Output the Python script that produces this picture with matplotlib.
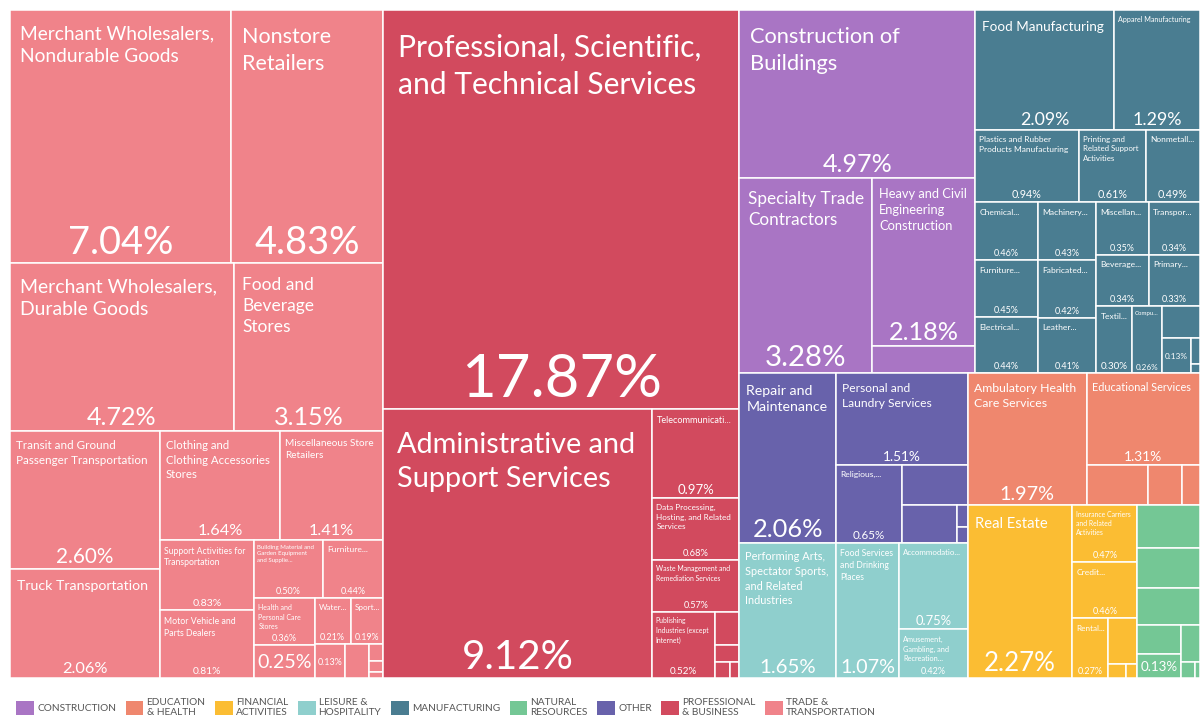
import numpy as np
import matplotlib
matplotlib.use("Agg")
import matplotlib.pyplot as plt
from matplotlib.patches import Rectangle, Patch

plt.rcParams['font.family'] = ['Lato', 'DejaVu Sans']

# ---- data (share of employment, %) ----
# None = no label, "" = percentage only
trade_names = ["Merchant Wholesalers,\nNondurable Goods", "Nonstore\nRetailers",
               "Merchant Wholesalers,\nDurable Goods", "Food and\nBeverage\nStores",
               "Transit and Ground\nPassenger Transportation", "Truck Transportation",
               "Clothing and\nClothing Accessories\nStores", "Miscellaneous Store\nRetailers",
               "Support Activities for\nTransportation", "Motor Vehicle and\nParts Dealers",
               "Building Material and\nGarden Equipment\nand Supplie...", "Furniture...",
               "Health and\nPersonal Care\nStores", "", "Water...", "Sport...", "",
               None, None, None, None]
trade_values = [7.04, 4.83, 4.72, 3.15, 2.60, 2.06, 1.64, 1.41, 0.83, 0.81,
                0.50, 0.44, 0.36, 0.25, 0.21, 0.19, 0.13, 0.10, 0.03, 0.02, 0.01]

prof_names = ["Professional, Scientific,\nand Technical Services",
              "Administrative and\nSupport Services", "Telecommunicati...",
              "Data Processing,\nHosting, and Related\nServices",
              "Waste Management and\nRemediation Services",
              "Publishing\nIndustries (except\nInternet)", None, None, None, None]
prof_values = [17.87, 9.12, 0.97, 0.68, 0.57, 0.52, 0.10, 0.05, 0.03, 0.02]

constr_names = ["Construction of\nBuildings", "Specialty Trade\nContractors",
                "Heavy and Civil\nEngineering\nConstruction", None]
constr_values = [4.97, 3.28, 2.18, 0.35]

manuf_names = ["Food Manufacturing", "Apparel Manufacturing",
               "Plastics and Rubber\nProducts Manufacturing",
               "Printing and\nRelated Support\nActivities", "Nonmetall...",
               "Chemical...", "Furniture...", "Electrical...", "Machinery...",
               "Fabricated...", "Leather...", "Miscellan...", "Transpor...",
               "Beverage...", "Primary...", "Textil...", "Compu...", None, "",
               None, None]
manuf_values = [2.09, 1.29, 0.94, 0.61, 0.49, 0.46, 0.45, 0.44, 0.43, 0.42,
                0.41, 0.35, 0.34, 0.34, 0.33, 0.30, 0.26, 0.15, 0.13, 0.03, 0.01]

other_names = ["Repair and\nMaintenance", "Personal and\nLaundry Services",
               "Religious,...", None, None, None, None]
other_values = [2.06, 1.51, 0.65, 0.33, 0.26, 0.03, 0.02]

leisure_names = ["Performing Arts,\nSpectator Sports,\nand Related\nIndustries",
                 "Food Services\nand Drinking\nPlaces", "Accommodatio...",
                 "Amusement,\nGambling, and\nRecreation..."]
leisure_values = [1.65, 1.07, 0.75, 0.42]

edu_names = ["Ambulatory Health\nCare Services", "Educational Services",
             None, None, None]
edu_values = [1.97, 1.31, 0.31, 0.17, 0.09]

fin_names = ["Real Estate", "Insurance Carriers\nand Related\nActivities",
             "Credit...", "Rental...", None, None, None]
fin_values = [2.27, 0.47, 0.46, 0.27, 0.17, 0.03, 0.02]

nat_names = [None, None, None, None, "", None, None, None]
nat_values = [0.34, 0.31, 0.29, 0.16, 0.13, 0.09, 0.03, 0.01]

legend_labels = ["CONSTRUCTION", "EDUCATION\n& HEALTH", "FINANCIAL\nACTIVITIES",
                 "LEISURE &\nHOSPITALITY", "MANUFACTURING", "NATURAL\nRESOURCES",
                 "OTHER", "PROFESSIONAL\n& BUSINESS", "TRADE &\nTRANSPORTATION"]
legend_colors = ["#a975c4", "#ef876e", "#fbbd33", "#8fcfcd", "#4a7d91",
                 "#74c795", "#6862ab", "#d24a5e", "#f0838a"]

sectors = [
    (trade_names, trade_values, legend_colors[8]),
    (prof_names, prof_values, legend_colors[7]),
    (constr_names, constr_values, legend_colors[0]),
    (manuf_names, manuf_values, legend_colors[4]),
    (other_names, other_values, legend_colors[6]),
    (leisure_names, leisure_values, legend_colors[3]),
    (edu_names, edu_values, legend_colors[1]),
    (fin_names, fin_values, legend_colors[2]),
    (nat_names, nat_values, legend_colors[5]),
]


def squarify(values, x0, y0, x1, y1):
    # squarified tiling (same rules as d3.treemapSquarify, ratio 1)
    n = len(values)
    order = sorted(range(n), key=lambda i: -values[i])
    rects = [None] * n
    total = float(sum(values))
    i0 = 0
    while i0 < n:
        dx, dy = x1 - x0, y1 - y0
        i1 = i0
        s = values[order[i1]]
        i1 += 1
        mn = mx = s
        alpha = max(dy / dx, dx / dy) / total
        beta = s * s * alpha
        best = max(mx / beta, beta / mn)
        while i1 < n:
            v = values[order[i1]]
            s2 = s + v
            mn2, mx2 = min(mn, v), max(mx, v)
            beta = s2 * s2 * alpha
            r = max(mx2 / beta, beta / mn2)
            if r > best:
                break
            s, mn, mx, best = s2, mn2, mx2, r
            i1 += 1
        row = order[i0:i1]
        if dx < dy:
            h = dy * s / total if total > 0 else dy
            xx = x0
            for j in row:
                w = dx * values[j] / s
                rects[j] = (xx, y0, xx + w, y0 + h)
                xx += w
            y0 += h
        else:
            w = dx * s / total if total > 0 else dx
            yy = y0
            for j in row:
                h = dy * values[j] / s
                rects[j] = (x0, yy, x0 + w, yy + h)
                yy += h
            x0 += w
        total -= s
        i0 = i1
    return rects


W, H = 1190, 668
STRETCH = 1.068  # tiles are computed on a slightly wider canvas, then squeezed

fig = plt.figure(figsize=(12, 7.2), dpi=100)
ax = fig.add_axes([10 / 1200, 1 - 678 / 720, W / 1200, H / 720])
ax.set_xlim(0, W)
ax.set_ylim(H, 0)
ax.axis("off")
renderer = fig.canvas.get_renderer()
PT = 0.72  # px -> pt at 100 dpi


def fit(t, max_w, max_h):
    bb = t.get_window_extent(renderer)
    k = 1.0
    if bb.width > max_w:
        k = min(k, max_w / bb.width)
    if bb.height > max_h:
        k = min(k, max_h / bb.height)
    if k < 1:
        t.set_fontsize(t.get_fontsize() * k)
    return t.get_fontsize() / PT


def squeeze(r):
    return (r[0] / STRETCH, r[1], r[2] / STRETCH, r[3])


sector_totals = [sum(v) for _, v, _ in sectors]
sector_rects = squarify(sector_totals, 0, 0, W * STRETCH, H)

for (names, values, color), srect in zip(sectors, sector_rects):
    leaf_rects = squarify(values, *srect)
    for name, val, lr in zip(names, values, leaf_rects):
        x0, y0, x1, y1 = squeeze(lr)
        w, h = x1 - x0, y1 - y0
        ax.add_patch(Rectangle((x0, y0), w, h, facecolor=color,
                               edgecolor="white", lw=1.1))
        if name is None:
            continue
        a = np.sqrt(w * h)
        pct = f"{val:.2f}%"
        if name == "":
            t = ax.text(x0 + w / 2, y0 + h / 2 + 1, pct, color="white",
                        ha="center", va="center", fontsize=min(0.6 * h, 30) * PT)
            fit(t, w - 6, h - 4)
            continue
        t = ax.text(x0, y0, name, color="white", ha="left", va="top",
                    linespacing=1.4, fontsize=max(min(30, 0.11 * a), 8.5) * PT)
        fs = fit(t, w - 0.1 * w - 4, 0.55 * h)
        padl, padt = max(3, 0.5 * fs), max(2.5, 0.8 * fs)
        t.set_position((x0 + padl, y0 + padt))
        fit(t, w - padl - 3, 0.6 * h - padt)
        t = ax.text(x0 + w / 2, y1 - 2, pct, color="white",
                    ha="center", va="bottom",
                    fontsize=max(min(62, 0.15 * h), 9) * PT)
        fit(t, w - 8, 0.4 * h)

handles = [Patch(facecolor=c, edgecolor="none") for c in legend_colors]
fig.legend(handles, legend_labels, ncol=9, loc="center left",
           bbox_to_anchor=(0.006, 0.0175), frameon=False, fontsize=7.3,
           handlelength=1.75, handleheight=1.75, handletextpad=0.3,
           columnspacing=0.95, labelcolor="#555555", labelspacing=0.15)

fig.savefig("out.png", dpi=100)
